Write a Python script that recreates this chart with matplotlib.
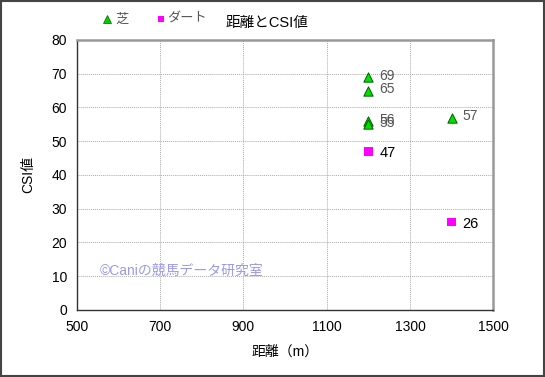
import matplotlib
matplotlib.use("Agg")
import matplotlib.pyplot as plt
from matplotlib.patches import Rectangle
from matplotlib.lines import Line2D

plt.rcParams['font.family'] = ['Liberation Sans', 'Noto Sans CJK JP', 'DejaVu Sans']

# data
turf_dist = [1200, 1200, 1200, 1200, 1400]
turf_csi = [69, 65, 56, 55, 57]
dirt_dist = [1200, 1400]
dirt_csi = [47, 26]
x_ticks = [500, 700, 900, 1100, 1300, 1500]
y_ticks = [0, 10, 20, 30, 40, 50, 60, 70, 80]

fig = plt.figure(figsize=(5.45, 3.77), dpi=100)
ax = fig.add_axes([0.141, 0.178, 0.764, 0.716])

ax.scatter(turf_dist, turf_csi, marker='^', s=45, color='#00e000',
           edgecolors='#006000', linewidths=0.7, zorder=3, clip_on=False)
ax.scatter(dirt_dist, dirt_csi, marker='s', s=38, color='#ff00ff',
           edgecolors='none', zorder=3, clip_on=False)

for x, y in zip(turf_dist, turf_csi):
    ax.annotate(str(y), (x, y), xytext=(8, 1), textcoords='offset points',
                va='center', ha='left', fontsize=10, color='#555555')
for x, y in zip(dirt_dist, dirt_csi):
    ax.annotate(str(y), (x, y), xytext=(8, -1), textcoords='offset points',
                va='center', ha='left', fontsize=10.5, color='black')

ax.set_xlim(500, 1500)
ax.set_ylim(0, 80)
ax.set_xticks(x_ticks)
ax.set_yticks(y_ticks)
ax.tick_params(length=0, labelsize=10, pad=7)
ax.grid(True, color='#aaaaaa', linestyle=(0, (1, 1)), linewidth=0.7)

for s in ['left', 'bottom']:
    ax.spines[s].set_color('#333333')
    ax.spines[s].set_linewidth(1.0)
for s in ['top', 'right']:
    ax.spines[s].set_color('#999999')
    ax.spines[s].set_linewidth(1.8)

ax.set_xlabel('距離（m）', fontsize=10, labelpad=8)
ax.set_ylabel('CSI値', fontsize=10, labelpad=12)

fig.text(0.49, 0.94, '距離とCSI値', ha='center', va='center', fontsize=10.5)

# legend
fig.add_artist(Line2D([0.197], [0.949], transform=fig.transFigure, marker='^',
                      markersize=6, color='#00d000', markeredgecolor='#006000',
                      markeredgewidth=0.5, linestyle='none'))
fig.text(0.211, 0.948, '芝', ha='left', va='center', fontsize=9.5, color='#555555')
fig.add_artist(Line2D([0.296], [0.949], transform=fig.transFigure, marker='s',
                      markersize=5, color='#ff00ff', markeredgewidth=0,
                      linestyle='none'))
fig.text(0.306, 0.948, 'ダート', ha='left', va='center', fontsize=9.5, color='#555555')

ax.text(0.055, 0.145, '©Caniの競馬データ研究室', transform=ax.transAxes,
        fontsize=10, color='#9999ee', ha='left', va='center')

fig.patches.append(Rectangle((0.001, 0.002), 0.997, 0.996, transform=fig.transFigure,
                             fill=False, edgecolor='#444444', linewidth=1.5))

fig.savefig('out.png', dpi=100)
